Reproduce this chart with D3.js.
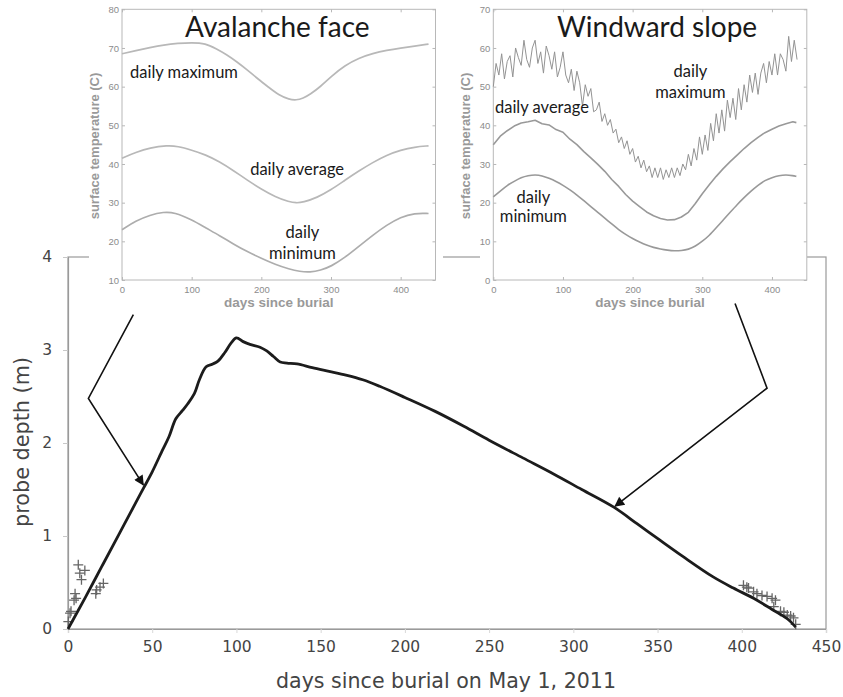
<!DOCTYPE html>
<html>
<head>
<meta charset="utf-8">
<script src="https://cdn.jsdelivr.net/npm/d3@7"></script>
<style>
  body { margin: 0; background: #fff; }
  svg { display: block; }
</style>
</head>
<body>
<svg id="chart" width="843" height="697"></svg>
<script>
// main chart: probe depth vs days since burial
let mainDays  = [0, 10, 20, 30, 40, 45, 50, 56, 60, 64, 68, 71, 75, 78, 82, 86, 89, 93, 97, 100, 104, 108, 114, 118, 122, 126, 130, 136, 145, 155, 165, 175, 185, 200, 218, 235, 250, 270, 288, 305, 324, 338, 351, 365, 383, 395, 407, 418, 427, 432];
let mainDepth = [0, 0.33, 0.67, 1.01, 1.35, 1.52, 1.69, 1.92, 2.07, 2.26, 2.35, 2.42, 2.53, 2.68, 2.82, 2.85, 2.88, 2.97, 3.08, 3.13, 3.09, 3.06, 3.03, 2.99, 2.93, 2.87, 2.86, 2.85, 2.81, 2.77, 2.73, 2.68, 2.61, 2.49, 2.34, 2.18, 2.03, 1.84, 1.67, 1.50, 1.31, 1.13, 0.96, 0.78, 0.56, 0.44, 0.33, 0.21, 0.11, 0.02];

// measured probe positions (crosses)
let startProbeDays  = [0.2, 1.2, 1.8, 3.6, 4.2, 4.8, 6.1, 7, 8, 10, 16.5, 17, 19, 21];
let startProbeDepth = [0.08, 0.17, 0.19, 0.31, 0.38, 0.33, 0.69, 0.6, 0.53, 0.63, 0.38, 0.42, 0.45, 0.49];
let endProbeDays  = [401, 403, 404, 407, 409, 412, 415, 418, 419, 420, 423, 425, 427, 429, 430.7, 432];
let endProbeDepth = [0.47, 0.45, 0.44, 0.40, 0.38, 0.36, 0.35, 0.33, 0.24, 0.31, 0.19, 0.18, 0.15, 0.14, 0.12, 0.05];

let mainXTicks = [0, 50, 100, 150, 200, 250, 300, 350, 400, 450];
let mainYTicks = [0, 1, 2, 3, 4];

// avalanche face inset
let avMaxDays = [0, 20, 40, 60, 80, 100, 120, 135, 150, 165, 180, 195, 210, 225, 240, 250, 260, 270, 285, 300, 320, 340, 360, 380, 400, 420, 440];
let avMax     = [68.5, 69.3, 70.1, 70.8, 71.2, 71.4, 71.2, 69.8, 68.3, 66.4, 64.3, 62, 59.9, 57.8, 56.7, 56.5, 57, 58, 60, 62.6, 65.5, 67.4, 68.6, 69.4, 70, 70.5, 71];
let avAvgDays = [0, 20, 40, 65, 80, 100, 120, 140, 160, 180, 200, 220, 240, 250, 260, 280, 300, 320, 340, 360, 380, 400, 420, 440];
let avAvg     = [41.5, 43, 44.2, 44.8, 44.6, 43.6, 42.4, 40.6, 38.3, 35.8, 33.5, 31.5, 30.2, 29.9, 30.1, 31.3, 33.3, 35.8, 38.2, 40.4, 42.3, 43.6, 44.4, 44.7];
let avMinDays = [0, 20, 40, 60, 75, 100, 120, 140, 160, 180, 200, 220, 240, 255, 270, 285, 300, 320, 340, 360, 380, 400, 420, 440];
let avMin     = [23, 25.3, 26.8, 27.6, 27.5, 25.6, 23.5, 21.5, 19.3, 17.3, 15.6, 14, 12.8, 12.2, 12, 12.5, 13.5, 15.8, 18.7, 21.6, 24.2, 26.3, 27.3, 27.2];

// windward slope inset (daily maximum read every 4 days)
let wwMaxDays = [0, 4, 8, 12, 16, 20, 24, 28, 32, 36, 40, 44, 48, 52, 56, 60, 64, 68, 72, 76, 80, 84, 88, 92, 96, 100, 104, 108, 112, 116, 120, 124, 128, 132, 136, 140, 144, 148, 152, 156, 160, 164, 168, 172, 176, 180, 184, 188, 192, 196, 200, 204, 208, 212, 216, 220, 224, 228, 232, 236, 240, 244, 248, 252, 256, 260, 264, 268, 272, 276, 280, 284, 288, 292, 296, 300, 304, 308, 312, 316, 320, 324, 328, 332, 336, 340, 344, 348, 352, 356, 360, 364, 368, 372, 376, 380, 384, 388, 392, 396, 400, 404, 408, 412, 416, 420, 424, 428, 432, 436];
let wwMax     = [50, 56, 53, 58.5, 52, 56.5, 58, 52.5, 60, 57.5, 55.5, 62, 57, 55, 60, 62, 56, 59, 53.5, 60.5, 58, 54.5, 59, 52.5, 55, 59, 53, 51, 54.5, 49, 54, 51, 45, 50.5, 47.5, 49.5, 43.5, 44, 46, 41, 43, 40, 41.5, 38, 39, 35.5, 37, 34, 36, 32.5, 34, 30.5, 32, 29, 31, 28, 29.5, 26.5, 29, 26.5, 29, 26, 28.5, 26.5, 29, 26.5, 29, 27, 30, 28.5, 32.5, 29.5, 34, 31, 37, 32.5, 37.5, 33.5, 40.5, 36, 43, 38, 44, 38.5, 46.5, 42, 47, 41.5, 49.5, 44, 50.5, 46, 53, 48.5, 53.5, 48, 53.5, 56, 51, 56.5, 53, 58.5, 53, 58.5, 57, 54, 63, 56.5, 62, 57];
let wwDays = [0, 10, 20, 30, 40, 50, 60, 70, 80, 90, 100, 110, 120, 130, 140, 150, 160, 170, 180, 190, 200, 210, 220, 230, 240, 250, 260, 270, 280, 290, 300, 310, 320, 330, 340, 350, 360, 370, 380, 390, 400, 410, 420, 430, 435];
let wwAvg  = [35, 37.2, 38.6, 39.8, 40.6, 40.9, 41.3, 40.4, 40.1, 38.9, 38.2, 36.4, 35, 33.2, 31.6, 29.9, 28.1, 26, 24.2, 22.1, 20.4, 19, 17.6, 16.6, 15.9, 15.5, 15.6, 16.3, 17.5, 19.8, 22.3, 24.6, 26.8, 28.8, 30.6, 32.3, 34, 35.5, 36.9, 38.1, 39, 39.8, 40.4, 40.9, 40.7];
let wwMin  = [21.5, 23, 24.5, 25.5, 26.5, 27, 27.2, 27, 26.3, 25.5, 24.5, 23.3, 22, 20.5, 19, 17.5, 16, 14.5, 13, 11.8, 10.7, 9.8, 9, 8.4, 8, 7.7, 7.5, 7.6, 7.9, 8.7, 10, 11.5, 13.5, 15.5, 17.5, 19.5, 21.3, 23, 24.5, 25.8, 26.5, 27, 27.2, 27, 26.8];

let insetXTicks = [0, 100, 200, 300, 400];
let avYTicks = [10, 20, 30, 40, 50, 60, 70, 80];
let wwYTicks = [0, 10, 20, 30, 40, 50, 60, 70];

let svg = d3.select("#chart");

// ---------- main chart ----------
let x = d3.scaleLinear().domain([0, 450]).range([68, 826]);
let y = d3.scaleLinear().domain([0, 4]).range([629, 257]);
let axisColor = "#9a9a9a";

let main = svg.append("g");

// frame
main.append("rect")
  .attr("x", x(0)).attr("y", y(4))
  .attr("width", x(450) - x(0)).attr("height", y(0) - y(4))
  .attr("fill", "none").attr("stroke", axisColor).attr("stroke-width", 1.2);

let xAxis = main.append("g")
  .attr("transform", "translate(0," + y(0) + ")")
  .call(d3.axisBottom(x).tickValues(mainXTicks).tickSize(4).tickPadding(8));
let yAxis = main.append("g")
  .attr("transform", "translate(" + x(0) + ",0)")
  .call(d3.axisLeft(y).tickValues(mainYTicks).tickSize(5).tickPadding(11).tickFormat(d3.format("d")));

[xAxis, yAxis].forEach(function(ax){
  ax.select(".domain").attr("stroke", axisColor).attr("stroke-width", 1.2);
  ax.selectAll(".tick line").attr("stroke", "#c8c8c8");
  ax.selectAll("text")
    .attr("font-family", "DejaVu Sans, Verdana, sans-serif")
    .attr("font-size", 15.5)
    .attr("fill", "#444");
});
xAxis.selectAll(".tick line").attr("stroke", "#d8d8d8");

main.append("text")
  .attr("x", 446).attr("y", 688)
  .attr("text-anchor", "middle")
  .attr("font-family", "DejaVu Sans, Verdana, sans-serif")
  .attr("font-size", 21)
  .attr("textLength", 340).attr("lengthAdjust", "spacingAndGlyphs")
  .attr("fill", "#444")
  .text("days since burial on May 1, 2011");

main.append("text")
  .attr("transform", "translate(29,442) rotate(-90)")
  .attr("text-anchor", "middle")
  .attr("font-family", "DejaVu Sans, Verdana, sans-serif")
  .attr("font-size", 21)
  .attr("textLength", 170).attr("lengthAdjust", "spacingAndGlyphs")
  .attr("fill", "#444")
  .text("probe depth (m)");

// probe crosses
function drawCrosses(days, depth){
  for(let i = 0; i < days.length; i++){
    let cx = x(days[i]), cy = y(depth[i]);
    main.append("path")
      .attr("d", "M" + (cx - 5) + "," + cy + "H" + (cx + 5) + "M" + cx + "," + (cy - 5) + "V" + (cy + 5))
      .attr("stroke", "#666").attr("stroke-width", 1.3).attr("fill", "none");
  }
}
drawCrosses(startProbeDays, startProbeDepth);
drawCrosses(endProbeDays, endProbeDepth);

let mainLine = d3.line()
  .x(function(d){ return x(d[0]); })
  .y(function(d){ return y(d[1]); })
  .curve(d3.curveCatmullRom.alpha(0.5));

main.append("path")
  .datum(d3.zip(mainDays, mainDepth))
  .attr("d", mainLine)
  .attr("fill", "none")
  .attr("stroke", "#1c1c1c")
  .attr("stroke-width", 2.8)
  .attr("stroke-linejoin", "round");

// ---------- insets ----------
function drawInset(opts){
  let g = svg.append("g");
  g.append("rect")
    .attr("x", opts.bgX).attr("y", 0)
    .attr("width", opts.bgW).attr("height", 312)
    .attr("fill", "#fff");

  let ix = d3.scaleLinear().domain([0, 450]).range([opts.left, opts.left + 313.5]);
  let iy = d3.scaleLinear().domain(opts.yDomain).range([280, 9.3]);
  let frameColor = "#b8b8b8";

  g.append("rect")
    .attr("x", ix(0)).attr("y", iy(opts.yDomain[1]))
    .attr("width", ix(450) - ix(0)).attr("height", iy(opts.yDomain[0]) - iy(opts.yDomain[1]))
    .attr("fill", "none").attr("stroke", frameColor).attr("stroke-width", 1);

  // inward ticks on all sides
  let bx = g.append("g").attr("transform", "translate(0," + iy(opts.yDomain[0]) + ")")
    .call(d3.axisBottom(ix).tickValues(insetXTicks).tickSize(-3).tickPadding(6));
  let tx = g.append("g").attr("transform", "translate(0," + iy(opts.yDomain[1]) + ")")
    .call(d3.axisTop(ix).tickValues(insetXTicks).tickSize(-3).tickFormat(""));
  let ly = g.append("g").attr("transform", "translate(" + ix(0) + ",0)")
    .call(d3.axisLeft(iy).tickValues(opts.yTicks).tickSize(-3).tickPadding(3));
  let ry = g.append("g").attr("transform", "translate(" + ix(450) + ",0)")
    .call(d3.axisRight(iy).tickValues(opts.yTicks).tickSize(-3).tickFormat(""));
  [bx, tx, ly, ry].forEach(function(ax){
    ax.select(".domain").remove();
    ax.selectAll(".tick line").attr("stroke", frameColor);
    ax.selectAll("text")
      .attr("font-family", "Liberation Sans, Arial, sans-serif")
      .attr("font-size", 9.5)
      .attr("fill", "#8c8c8c");
  });

  g.append("text")
    .attr("x", ix(225)).attr("y", 307)
    .attr("text-anchor", "middle")
    .attr("font-family", "Liberation Sans, Arial, sans-serif")
    .attr("font-weight", "bold")
    .attr("font-size", 13.5)
    .attr("fill", "#999")
    .text("days since burial");

  g.append("text")
    .attr("transform", "translate(" + (ix(0) - 23) + ",146) rotate(-90)")
    .attr("text-anchor", "middle")
    .attr("font-family", "Liberation Sans, Arial, sans-serif")
    .attr("font-weight", "bold")
    .attr("font-size", 13)
    .attr("fill", "#999")
    .text("surface temperature (C)");

  let line = d3.line()
    .x(function(d){ return ix(d[0]); })
    .y(function(d){ return iy(d[1]); });

  opts.series.forEach(function(s){
    line.curve(s.curve);
    g.append("path")
      .datum(d3.zip(s.days, s.values))
      .attr("d", line)
      .attr("fill", "none")
      .attr("stroke", s.color)
      .attr("stroke-width", s.width)
      .attr("stroke-linejoin", "round");
  });

  g.append("text")
    .attr("x", ix(opts.title[1])).attr("y", iy(opts.title[2]))
    .attr("text-anchor", "middle")
    .attr("font-family", "Lato, Open Sans, sans-serif")
    .attr("font-size", 28)
    .attr("fill", "#1a1a1a")
    .text(opts.title[0]);

  opts.notes.forEach(function(n){
    g.append("text")
      .attr("x", ix(n[1])).attr("y", iy(n[2]))
      .attr("text-anchor", n[3])
      .attr("font-family", "Lato, Open Sans, sans-serif")
      .attr("font-size", 16.5)
      .attr("fill", "#1a1a1a")
      .text(n[0]);
  });
}

drawInset({
  bgX: 89, bgW: 354, left: 122,
  yDomain: [10, 80], yTicks: avYTicks,
  title: ["Avalanche face", 223, 72.8],
  series: [
    {days: avMaxDays, values: avMax, color: "#b8b8b8", width: 1.7, curve: d3.curveBasis},
    {days: avAvgDays, values: avAvg, color: "#b8b8b8", width: 1.7, curve: d3.curveBasis},
    {days: avMinDays, values: avMin, color: "#adadad", width: 1.7, curve: d3.curveBasis}
  ],
  notes: [
    ["daily maximum", 11.5, 62.2, "start"],
    ["daily average", 184, 37.2, "start"],
    ["daily", 259, 20.9, "middle"],
    ["minimum", 259, 15.5, "middle"]
  ]
});

drawInset({
  bgX: 480, bgW: 327, left: 493.3,
  yDomain: [0, 70], yTicks: wwYTicks,
  title: ["Windward slope", 235, 62.8],
  series: [
    {days: wwMaxDays, values: wwMax, color: "#939393", width: 1.0, curve: d3.curveLinear},
    {days: wwDays, values: wwAvg, color: "#999", width: 1.6, curve: d3.curveLinear},
    {days: wwDays, values: wwMin, color: "#999", width: 1.6, curve: d3.curveBasis}
  ],
  notes: [
    ["daily", 283, 52.5, "middle"],
    ["maximum", 283, 47.1, "middle"],
    ["daily average", 2.4, 43.2, "start"],
    ["daily", 57.5, 20, "middle"],
    ["minimum", 57.5, 15, "middle"]
  ]
});

// ---------- callout arrows (in main chart data units) ----------
let leftArrow  = [[38.8, 3.38], [12.1, 2.48], [44.7, 1.55]];
let rightArrow = [[396, 3.50], [415, 2.59], [324.8, 1.32]];

svg.append("defs").append("marker")
  .attr("id", "head")
  .attr("viewBox", "0 0 10 10")
  .attr("refX", 9).attr("refY", 5)
  .attr("markerWidth", 12).attr("markerHeight", 10)
  .attr("markerUnits", "userSpaceOnUse")
  .attr("orient", "auto")
  .append("path")
  .attr("d", "M0,0L10,5L0,10Z")
  .attr("fill", "#111");

let arrowLine = d3.line()
  .x(function(d){ return x(d[0]); })
  .y(function(d){ return y(d[1]); });

[leftArrow, rightArrow].forEach(function(pts){
  svg.append("path")
    .attr("d", arrowLine(pts))
    .attr("fill", "none")
    .attr("stroke", "#111")
    .attr("stroke-width", 1.6)
    .attr("marker-end", "url(#head)");
});
</script>
</body>
</html>
